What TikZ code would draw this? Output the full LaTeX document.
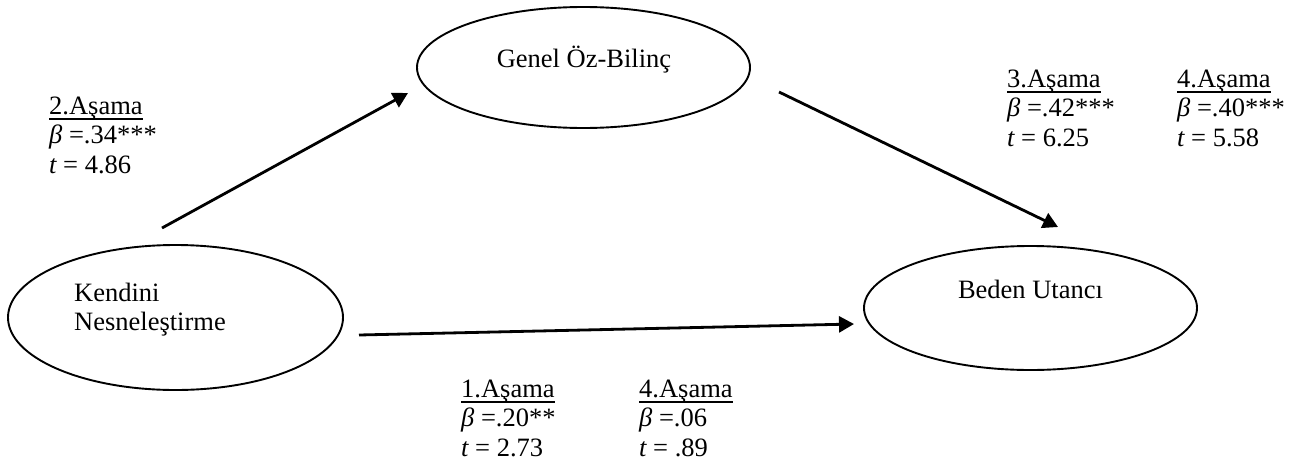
\documentclass[tikz,border=0pt]{standalone}
\usepackage{fontspec}
\setmainfont{Liberation Serif}
\usetikzlibrary{arrows.meta,shapes.geometric}
\tikzset{
  var/.style={draw=black, ellipse, line width=1.9pt, inner sep=0pt},
  arr/.style={line width=2.8pt, -{Triangle[length=15pt,width=16pt]}},
  txt/.style={inner sep=0pt, font=\fontsize{26.5}{29.5}\selectfont},
}
\newcommand{\myul}[1]{\setbox0\hbox{#1}\rlap{\rule[-5.8pt]{\wd0}{1.5pt}}\box0}
\newcommand{\stat}[3]{\begin{tabular}[t]{@{}l@{}}\myul{#1}\\{\itshape β} =#2\\{\itshape t} = #3\end{tabular}}
\begin{document}
\begin{tikzpicture}[x=1pt,y=-1pt]
\useasboundingbox (0,0) rectangle (1306,466);
% ellipses
\node[var, minimum width=333pt, minimum height=121pt] (gob) at (583.5,67.5) {};
\node[var, minimum width=335pt, minimum height=145pt] (kn) at (175.5,317.5) {};
\node[var, minimum width=333pt, minimum height=124pt] (bu) at (1030.5,308) {};
% texts in ellipses
\node[txt, anchor=base] (gobt) at (584,67) {Genel Öz-Bilinç};
\node[txt, anchor=base] (but) at (1030.5,298) {Beden Utancı};
\node[txt, anchor=base west] (knt) at (74,301) {\begin{tabular}[t]{@{}l@{}}Kendini\\Nesneleştirme\end{tabular}};
% arrows
\coordinate (a1s) at (162,228);
\coordinate (a1e) at (408,93);
\coordinate (a2s) at (779,92);
\coordinate (a2e) at (1058,227);
\coordinate (a3s) at (359,335);
\coordinate (a3e) at (854,324);
\draw[arr] (a1s) -- (a1e);
\draw[arr] (a2s) -- (a2e);
\draw[arr] (a3s) -- (a3e);
% statistics
\node[txt, anchor=base west] (s2) at (49,114) {\stat{2.Aşama}{.34***}{4.86}};
\node[txt, anchor=base west] (s3) at (1007,87) {\stat{3.Aşama}{.42***}{6.25}};
\node[txt, anchor=base west] (s4a) at (1177,87) {\stat{4.Aşama}{.40***}{5.58}};
\node[txt, anchor=base west] (s1) at (461,397) {\stat{1.Aşama}{.20**}{2.73}};
\node[txt, anchor=base west] (s4b) at (639,397) {\stat{4.Aşama}{.06}{.89}};
\end{tikzpicture}
\end{document}
